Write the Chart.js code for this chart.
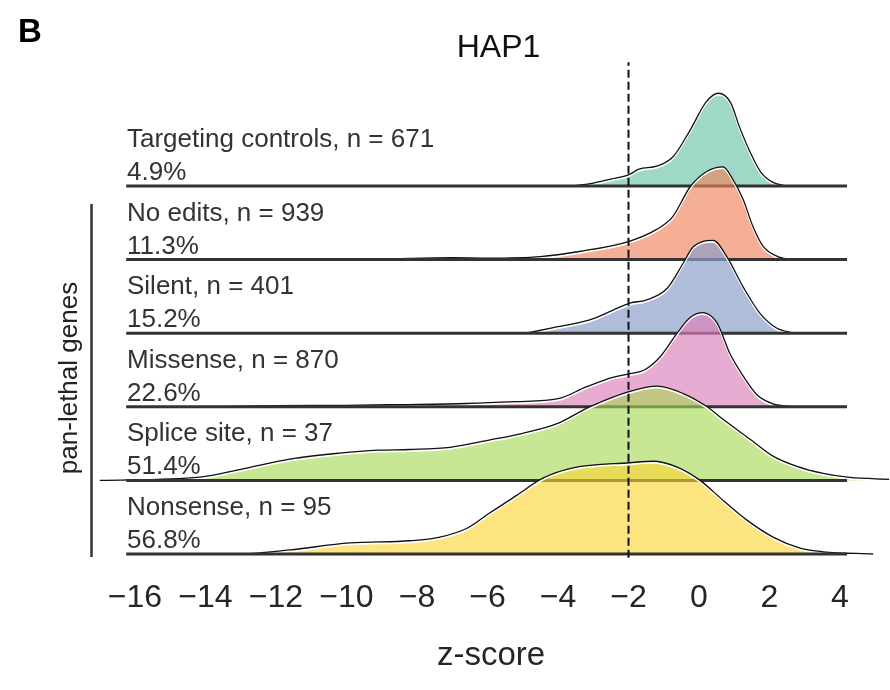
<!DOCTYPE html>
<html>
<head>
<meta charset="utf-8">
<script src="https://cdn.jsdelivr.net/npm/chart.js@4/dist/chart.umd.min.js"></script>
<style>
  html, body { margin: 0; padding: 0; background: #fff; }
  canvas { display: block; }
</style>
</head>
<body>
<canvas id="ridgeChart" width="890" height="690"></canvas>
<script>
// rows, top to bottom
const categories = ['Targeting controls', 'No edits', 'Silent', 'Missense', 'Splice site', 'Nonsense'];
const counts = [671, 939, 401, 870, 37, 95];
const percents = ['4.9%', '11.3%', '15.2%', '22.6%', '51.4%', '56.8%'];
const rowOffsets = [5, 4, 3, 2, 1, 0];
const xTicks = [-16, -14, -12, -10, -8, -6, -4, -2, 0, 2, 4];
const cutoff = -2;

// density estimates (z-score, height in row units)
const targetingZ = [-3.6, -3.0, -2.5, -2.0, -1.7, -1.2, -0.75, -0.25, 0.2, 0.55, 0.9, 1.15, 1.45, 1.75, 2.1, 2.5];
const targetingD = [0, 0.04, 0.095, 0.15, 0.23, 0.27, 0.39, 0.76, 1.14, 1.26, 1.13, 0.8, 0.46, 0.19, 0.05, 0];

const noEditsZ = [-12, -9, -7, -6, -4.5, -3.4, -2.0, -1.2, -0.75, -0.25, 0.23, 0.68, 0.96, 1.25, 1.53, 1.82, 2.3, 2.7];
const noEditsD = [0, 0.01, 0.025, 0.02, 0.04, 0.11, 0.245, 0.41, 0.58, 0.99, 1.2, 1.26, 1.09, 0.82, 0.45, 0.18, 0.03, 0];

const silentZ = [-4.9, -4.2, -3.1, -2.45, -1.96, -1.5, -0.9, -0.45, -0.17, 0.4, 0.8, 1.25, 1.73, 2.2, 2.7];
const silentD = [0, 0.07, 0.18, 0.31, 0.41, 0.45, 0.61, 0.95, 1.17, 1.26, 1.03, 0.63, 0.27, 0.07, 0];

const missenseZ = [-14, -12, -10, -8.5, -6.6, -5.2, -4.0, -3.2, -2.45, -1.96, -1.55, -1.1, -0.62, -0.26, 0.11, 0.51, 0.88, 1.25, 1.65, 2.1, 2.7];
const missenseD = [0, 0.015, 0.02, 0.03, 0.045, 0.07, 0.11, 0.27, 0.4, 0.45, 0.5, 0.68, 1.0, 1.21, 1.28, 1.14, 0.72, 0.42, 0.16, 0.04, 0];

const spliceZ = [-17.0, -14.16, -13.0, -11.6, -10.2, -9.1, -8.2, -7.06, -5.93, -5.0, -4.03, -3.1, -1.96, -1.19, -0.45, 0.23, 0.68, 1.45, 2.1, 2.78, 3.52, 4.28, 5.4];
const spliceD = [0, 0.045, 0.15, 0.29, 0.37, 0.41, 0.42, 0.45, 0.55, 0.64, 0.77, 1.0, 1.21, 1.28, 1.18, 1.0, 0.83, 0.56, 0.33, 0.19, 0.095, 0.04, 0.015];

const nonsenseZ = [-12.8, -11.6, -9.9, -8.2, -7.35, -6.58, -5.93, -5.16, -4.43, -3.57, -1.96, -1.3, -0.62, 0.03, 0.68, 1.36, 2.1, 2.87, 3.52, 4.94];
const nonsenseD = [0, 0.055, 0.15, 0.18, 0.23, 0.35, 0.56, 0.8, 1.03, 1.17, 1.24, 1.26, 1.18, 1.0, 0.73, 0.46, 0.23, 0.08, 0.03, 0];

const rowZ = [targetingZ, noEditsZ, silentZ, missenseZ, spliceZ, nonsenseZ];
const rowD = [targetingD, noEditsD, silentD, missenseD, spliceD, nonsenseD];

const fillColors = [
  'rgba(102,194,165,0.63)',
  'rgba(240,130,90,0.64)',
  'rgba(141,160,203,0.7)',
  'rgba(220,128,185,0.66)',
  'rgba(166,216,84,0.62)',
  'rgba(250,212,50,0.62)'
];

const Y_MIN = -0.0815, Y_MAX = 6.712;

const datasets = [];
let drawIdx = 0;
function push(ds) {
  ds.order = 1000 - drawIdx; // earlier pushes are drawn first (underneath)
  drawIdx++;
  datasets.push(ds);
}

for (let r = 0; r < categories.length; r++) {
  const off = rowOffsets[r];
  const pts = rowZ[r].map((z, i) => ({ x: z, y: off + rowD[r][i] }));
  push({
    data: pts, showLine: true, pointRadius: 0, borderWidth: 0,
    backgroundColor: fillColors[r], fill: { value: off },
    cubicInterpolationMode: 'monotone'
  });
  push({
    data: pts, showLine: true, pointRadius: 0, borderWidth: 2,
    borderColor: '#ffffff', fill: false, shiftY: 1.4,
    cubicInterpolationMode: 'monotone'
  });
  push({
    data: pts, showLine: true, pointRadius: 0, borderWidth: 1.3,
    borderColor: '#111111', fill: false,
    cubicInterpolationMode: 'monotone'
  });
  push({
    data: [{ x: -16.25, y: off }, { x: 4.2, y: off }],
    showLine: true, pointRadius: 0, borderWidth: 3,
    borderColor: '#333333', fill: false
  });
}

push({
  data: [{ x: cutoff, y: -0.05 }, { x: cutoff, y: 6.68 }],
  showLine: true, pointRadius: 0, borderWidth: 2,
  borderColor: '#111111', borderDash: [8, 4], fill: false
});

const shiftPlugin = {
  id: 'shiftPlugin',
  beforeDatasetDraw(chart, args) {
    const ds = chart.data.datasets[args.index];
    if (ds.shiftY) {
      chart.ctx.save();
      chart.ctx.translate(0, ds.shiftY);
    }
  },
  afterDatasetDraw(chart, args) {
    const ds = chart.data.datasets[args.index];
    if (ds.shiftY) chart.ctx.restore();
  }
};

const textPlugin = {
  id: 'textPlugin',
  afterDatasetsDraw(chart) {
    const ctx = chart.ctx;
    const y = chart.scales.y;
    ctx.save();
    ctx.fillStyle = '#333333';
    ctx.font = '26px "Liberation Sans", Arial, sans-serif';
    ctx.textAlign = 'left';
    ctx.textBaseline = 'alphabetic';
    for (let r = 0; r < categories.length; r++) {
      const base = y.getPixelForValue(rowOffsets[r]);
      ctx.fillText(categories[r] + ', n = ' + counts[r], 127, base - 39);
      ctx.fillText(percents[r], 127, base - 6);
    }

    // title and panel letter
    ctx.fillStyle = '#111111';
    ctx.textAlign = 'center';
    ctx.font = '32px "Liberation Sans", Arial, sans-serif';
    ctx.fillText('HAP1', 498.5, 57);
    ctx.fillStyle = '#000000';
    ctx.textAlign = 'left';
    ctx.font = 'bold 33px "Liberation Sans", Arial, sans-serif';
    ctx.fillText('B', 18, 42);

    // pan-lethal bracket
    ctx.strokeStyle = '#333333';
    ctx.lineWidth = 2.5;
    ctx.beginPath();
    ctx.moveTo(91.5, 204);
    ctx.lineTo(91.5, 557);
    ctx.stroke();
    ctx.translate(77, 378);
    ctx.rotate(-Math.PI / 2);
    ctx.fillStyle = '#222222';
    ctx.textAlign = 'center';
    ctx.font = '26px "Liberation Sans", Arial, sans-serif';
    ctx.fillText('pan-lethal genes', 0, 0);
    ctx.restore();
  }
};

new Chart(document.getElementById('ridgeChart'), {
  type: 'scatter',
  data: { datasets: datasets },
  options: {
    responsive: false,
    animation: false,
    layout: { padding: { left: 92.7, right: 0.65, top: 60, bottom: 10.2 } },
    plugins: { legend: { display: false }, tooltip: { enabled: false } },
    elements: { line: { tension: 0 } },
    scales: {
      x: {
        type: 'linear',
        min: -17.2,
        max: 5.4,
        grid: { display: false, drawTicks: false },
        border: { display: false },
        afterBuildTicks(scale) {
          scale.ticks = xTicks.map(v => ({ value: v }));
        },
        ticks: {
          padding: 27,
          color: '#262626',
          font: { family: '"Liberation Sans", Arial, sans-serif', size: 32, lineHeight: 0.694 },
          callback: v => (v < 0 ? '\u2212' + Math.abs(v) : String(v))
        },
        title: {
          display: true,
          text: 'z-score',
          color: '#262626',
          padding: { top: 0, bottom: 4 },
          font: { family: '"Liberation Sans", Arial, sans-serif', size: 33 }
        }
      },
      y: {
        type: 'linear',
        display: false,
        min: Y_MIN,
        max: Y_MAX
      }
    }
  },
  plugins: [shiftPlugin, textPlugin]
});
</script>
</body>
</html>
